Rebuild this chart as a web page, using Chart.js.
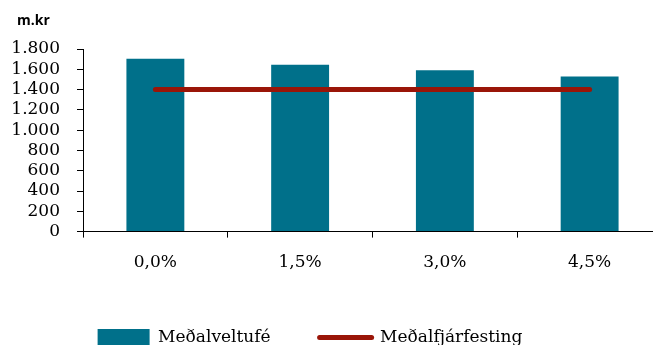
<!DOCTYPE html>
<html>
<head>
<meta charset="utf-8">
<script src="https://cdn.jsdelivr.net/npm/chart.js@4.4.1/dist/chart.umd.min.js"></script>
<style>
  html, body { margin: 0; padding: 0; background: #fff; overflow: hidden; }
  #wrap { width: 662px; height: 356px; position: relative; }
</style>
</head>
<body>
<div id="wrap"><canvas id="c"></canvas></div>
<script>
// Vaxtastig (flokkar á x-ás)
const categories = ['0,0%', '1,5%', '3,0%', '4,5%'];
// Meðalveltufé, m.kr
const veltufe = [1705, 1645, 1590, 1530];
// Meðalfjárfesting, m.kr
const fjarfesting = [1400, 1400, 1400, 1400];
// Gildi á y-ás
const yTicks = [0, 200, 400, 600, 800, 1000, 1200, 1400, 1600, 1800];

const serif = '"DejaVu Serif", serif';

// Eining y-ásins, efst til vinstri
const unitLabel = {
  id: 'unitLabel',
  afterDraw(chart) {
    const ctx = chart.ctx;
    ctx.save();
    ctx.font = 'bold 14px "Open Sans", sans-serif';
    ctx.fillStyle = '#000';
    ctx.textAlign = 'left';
    ctx.textBaseline = 'alphabetic';
    ctx.fillText('m.kr', 17, 25);
    ctx.restore();
  }
};

// Skýringar aðeins til vinstri við miðju
const legendShift = {
  id: 'legendShift',
  afterLayout(chart) {
    const lg = chart.legend;
    if (lg) { lg.left -= 21; lg.right -= 21; }
  }
};

new Chart(document.getElementById('c'), {
  data: {
    labels: categories,
    datasets: [
      {
        type: 'bar',
        label: 'Meðalveltufé',
        data: veltufe,
        backgroundColor: '#00708A',
        borderWidth: 0,
        barPercentage: 0.4,
        categoryPercentage: 1,
        order: 1
      },
      {
        type: 'line',
        label: 'Meðalfjárfesting',
        data: fjarfesting,
        borderColor: '#9A1508',
        backgroundColor: '#9A1508',
        borderWidth: 5,
        borderCapStyle: 'round',
        pointRadius: 0,
        fill: false,
        order: 0
      }
    ]
  },
  options: {
    responsive: true,
    maintainAspectRatio: false,
    animation: false,
    layout: { padding: { top: 49, left: 0, right: 0, bottom: 0 } },
    plugins: {
      tooltip: { enabled: false },
      legend: {
        position: 'bottom',
        labels: {
          usePointStyle: true,
          pointStyleWidth: 52,
          boxHeight: 17,
          padding: 49,
          color: '#000',
          font: { family: serif, size: 17 },
          generateLabels(chart) {
            return chart.data.datasets.map((ds, i) => ({
              text: ds.label,
              fillStyle: ds.backgroundColor,
              strokeStyle: ds.type === 'line' ? ds.borderColor : ds.backgroundColor,
              lineWidth: ds.type === 'line' ? 5 : 0,
              lineCap: 'round',
              pointStyle: ds.type === 'line' ? 'line' : 'rect',
              fontColor: '#000',
              hidden: false,
              datasetIndex: i
            }));
          }
        }
      }
    },
    scales: {
      x: {
        offset: true,
        afterFit(scale) { scale.height -= 8; },
        grid: {
          offset: true,
          drawOnChartArea: false,
          drawTicks: true,
          tickLength: 6,
          color: '#000'
        },
        border: { color: '#000', width: 1 },
        ticks: {
          color: '#000',
          padding: 15,
          font: { family: serif, size: 17 },
          maxRotation: 0,
          autoSkip: false
        }
      },
      y: {
        min: 0,
        max: 1800,
        afterBuildTicks(scale) {
          scale.ticks = yTicks.map(v => ({ value: v }));
        },
        afterFit(scale) { scale.width = 83; },
        grid: {
          drawOnChartArea: false,
          drawTicks: true,
          tickLength: 6,
          color: '#000'
        },
        border: { color: '#000', width: 1 },
        ticks: {
          color: '#000',
          padding: 17,
          autoSkip: false,
          font: { family: serif, size: 17 },
          callback: v => v.toLocaleString('de-DE')
        }
      }
    }
  },
  plugins: [unitLabel, legendShift]
});
</script>
</body>
</html>
